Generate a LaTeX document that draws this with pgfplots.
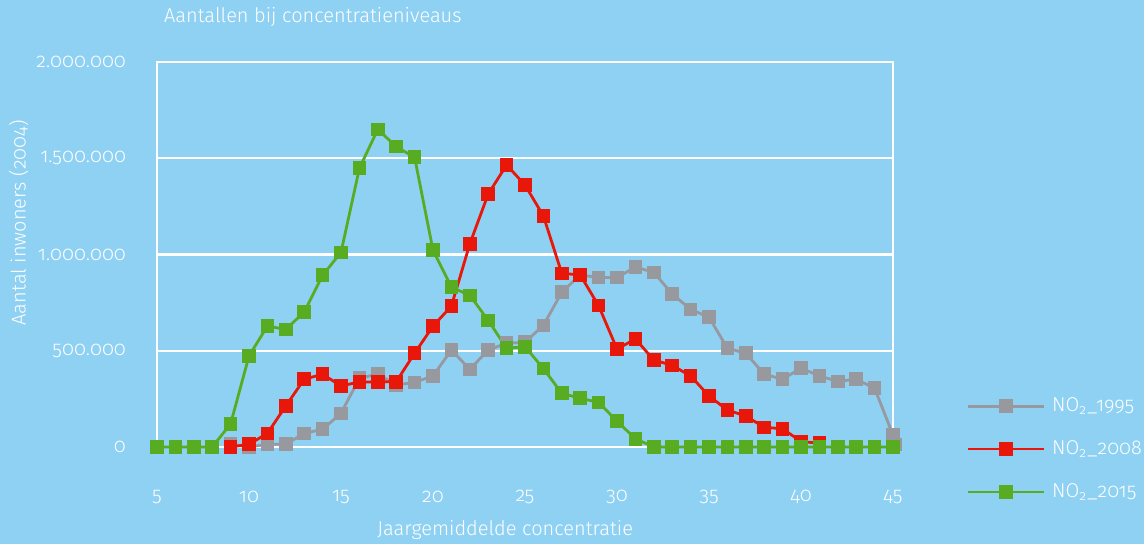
\documentclass[border=0pt]{standalone}
\usepackage{pgfplots}
\pgfplotsset{compat=1.18}
\usepackage{fontspec}
\setmainfont{Fira Sans Light}[Numbers=OldStyle]
\definecolor{bgBlue}{HTML}{8FD1F2}
\definecolor{sGray}{HTML}{98989F}
\definecolor{sRed}{HTML}{E8170A}
\definecolor{sGreen}{HTML}{58AC22}

\begin{document}
\begin{tikzpicture}
  \fill[bgBlue] (0,0) rectangle (572pt,272pt);
  \begin{axis}[
      at={(78.5pt,48.5pt)},anchor=south west,
      scale only axis,
      width=368pt,height=192.5pt,
      xmin=5,xmax=45,
      ymin=0,ymax=2000000,
      clip=false,
      axis line style={white,line width=1.2pt},
      ymajorgrids,grid style={white,line width=1.2pt},
      major tick length=0pt,
      xtick={5,10,...,45},
      ytick={0,500000,1000000,1500000,2000000},
      scaled y ticks=false,
      /pgf/number format/.cd,fixed,precision=0,1000 sep={.},assume math mode=true,
      /pgfplots/.cd,
      tick label style={font=\fontsize{10}{12}\selectfont,text=white},
      xticklabel style={anchor=center,yshift=-25pt},
      yticklabel style={anchor=east,xshift=-12pt},
      title={Aantallen bij concentratieniveaus},
      title style={at={(axis description cs:0,1.086)},anchor=west,font=\fontsize{10}{12}\selectfont,text=white},
      xlabel={Jaargemiddelde concentratie},
      xlabel style={at={(axis description cs:0.473,-0.2156)},anchor=center,font=\fontsize{10}{12}\selectfont,text=white},
      ylabel={Aantal inwoners (2004)},
      ylabel style={at={(axis description cs:-0.188,0.582)},anchor=center,rotate=0,font=\fontsize{10}{12}\selectfont,text=white},
      legend style={at={(axis description cs:1.091,0.15)},anchor=north west,draw=none,fill=none,
        font=\fontsize{10}{12}\selectfont,text=white,row sep=9pt,
        nodes={inner xsep=3.5pt}},
      legend cell align=left,
      legend image code/.code={\draw[mark repeat=2,mark phase=2,#1] plot coordinates {(0pt,0pt)(19pt,0pt)(38pt,0pt)};},
      every axis plot/.append style={line width=1.4pt,mark=square*,mark size=2.7pt},
    ]
    \addplot[color=sGray,mark options={fill=sGray,draw=sGray}] coordinates {
      (9,15000)(10,0)(11,14000)(12,14000)(13,71000)(14,92000)(15,175000)(16,357000)
      (17,379000)(18,322000)(19,336000)(20,369000)(21,504000)(22,403000)(23,504000)
      (24,539000)(25,544000)(26,632000)(27,804000)(28,894000)(29,880000)(30,880000)
      (31,935000)(32,907000)(33,795000)(34,715000)(35,674000)(36,513000)(37,487000)
      (38,378000)(39,352000)(40,410000)(41,369000)(42,341000)(43,352000)(44,305000)
      (45,62000)(45.1,12000)};
    \addplot[color=sRed,mark options={fill=sRed,draw=sRed}] coordinates {
      (9,0)(10,14000)(11,71000)(12,213000)(13,352000)(14,378000)(15,317000)(16,338000)
      (17,338000)(18,339000)(19,487000)(20,628000)(21,732000)(22,1055000)(23,1314000)
      (24,1465000)(25,1361000)(26,1200000)(27,902000)(28,894000)(29,734000)(30,509000)
      (31,561000)(32,452000)(33,424000)(34,369000)(35,265000)(36,192000)(37,161000)
      (38,102000)(39,95000)(40,28000)(41,20000)};
    \addplot[color=sGreen,mark options={fill=sGreen,draw=sGreen}] coordinates {
      (5,0)(6,0)(7,0)(8,0)(9,120000)(10,473000)(11,628000)(12,611000)(13,701000)
      (14,892000)(15,1011000)(16,1448000)(17,1650000)(18,1560000)(19,1505000)
      (20,1022000)(21,830000)(22,788000)(23,658000)(24,513000)(25,521000)(26,407000)
      (27,279000)(28,253000)(29,232000)(30,134000)(31,43000)(32,0)(33,0)(34,0)(35,0)
      (36,0)(37,0)(38,0)(39,0)(40,0)(41,0)(42,0)(43,0)(44,0)(45,0)};
    \legend{NO\textsubscript{2}\_1995,NO\textsubscript{2}\_2008,NO\textsubscript{2}\_2015}
  \end{axis}
  \pgfresetboundingbox
  \useasboundingbox (0,0) rectangle (572pt,272pt);
\end{tikzpicture}
\end{document}
